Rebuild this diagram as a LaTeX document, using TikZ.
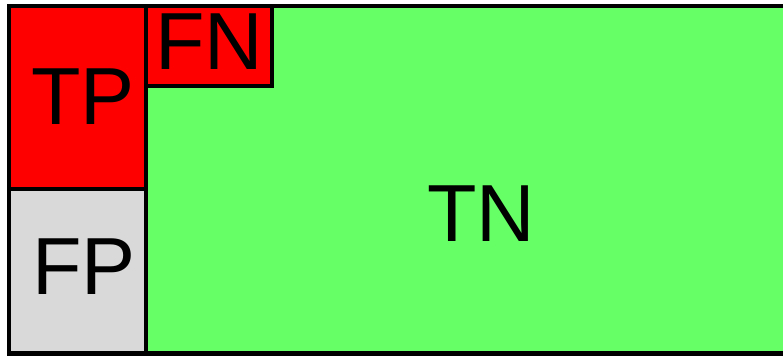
\documentclass[tikz,border=0pt]{standalone}
\usepackage{fontspec}
\setmainfont{Liberation Sans}
\usepackage{tikz}
\usetikzlibrary{positioning}
\definecolor{tpred}{HTML}{FF0000}
\definecolor{tngreen}{HTML}{66FF66}
\definecolor{fpgray}{HTML}{D9D9D9}

\begin{document}
\begin{tikzpicture}[x=1pt, y=-1pt, line width=4.5pt,
    lbl/.style={font=\fontsize{81}{97}\selectfont, inner sep=0pt}]
\useasboundingbox (0,0) rectangle (783,356);
\clip (0,0) rectangle (783,356);
% true negatives fill the whole box
\fill[tngreen](9,6) rectangle (800,353.5);
\filldraw[fill=tpred](9,6) rectangle (146,189);
\filldraw[fill=fpgray](9,189) rectangle (146,353.5);
\filldraw[fill=tpred](146,6) rectangle (272,86);
\draw(9,6) rectangle (800,353.5);
% labels
\node[lbl] (tp) at (83,97) {TP};
\node[lbl] (fp) at (84,267) {FP};
\node[lbl] (fn) at (209,42) {FN};
\node[lbl] (tn) at (481,214) {TN};
\end{tikzpicture}
\end{document}
